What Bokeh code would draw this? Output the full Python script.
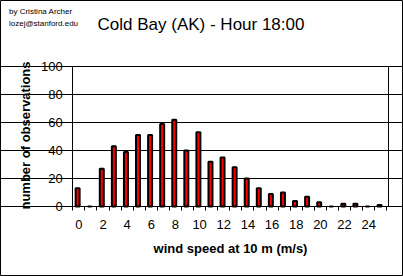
from bokeh.plotting import figure
from bokeh.models import Range1d, FixedTicker, Label, LinearAxis, Grid
from bokeh.transform import dodge
from bokeh.embed import file_html
from bokeh.resources import INLINE
from math import pi

# ---- data ----
speeds = list(range(26))
counts = [13, 0, 27, 43, 39, 51, 51, 59, 62, 40, 53, 32, 35, 28, 20, 13, 9, 10, 4, 7, 3, 0, 2, 2, 0, 1]
x_tick_values = list(range(0, 26, 2))
y_tick_values = [0, 20, 40, 60, 80, 100]

title_text = "Cold Bay (AK) - Hour 18:00"
credit_1 = "by Cristina Archer"
credit_2 = "lozej@stanford.edu"
x_title = "wind speed at 10 m (m/s)"
y_title = "number of observations"

FONT = "Liberation Sans"

# ---- layout (pixels of the 403x276 canvas) ----
W, H = 403, 276
PL, PR, PT, PB = 72.3, 388.0, 66.0, 206.0      # plot area
XA, XB = -0.5, 25.5                             # first / last category edges
XPX = (386.3 - PL) / (XB - XA)                  # pixels per category
YPX = (PB - PT) / 100.0                         # pixels per observation

x_start = XA - PL / XPX
x_end = XA + (W - PL) / XPX
x_right = XA + (PR - PL) / XPX
y_start = -(H - PB) / YPX
y_end = PB / YPX

p = figure(width=W, height=H, x_range=Range1d(x_start, x_end), y_range=Range1d(y_start, y_end),
           output_backend="svg", toolbar_location=None, x_axis_type=None, y_axis_type=None,
           min_border=0, min_border_left=0, min_border_right=0, min_border_top=0, min_border_bottom=0)
p.title.visible = False
p.background_fill_color = "white"
p.border_fill_color = "white"
p.outline_line_color = "black"
p.outline_line_width = 1

# horizontal grid
p.add_layout(Grid(dimension=1, ticker=FixedTicker(ticks=y_tick_values), bounds=(XA, x_right),
                  grid_line_color="black", grid_line_width=1))

p.vbar(x=dodge("x", -0.1, range=p.x_range), top="top", width=0.33, bottom=0,
       source=dict(x=speeds, top=counts),
       fill_color="#ff0000", line_color="black", line_width=2)

# y axis
yaxis = LinearAxis(fixed_location=XA, bounds=(0, 100), ticker=FixedTicker(ticks=y_tick_values),
                   major_tick_in=0, major_tick_out=4, minor_tick_line_color=None,
                   major_label_standoff=6, axis_line_color="black", major_tick_line_color="black",
                   major_label_text_font=FONT, major_label_text_font_size="13px",
                   major_label_text_color="black")
p.add_layout(yaxis, "left")

# x axis
xaxis = LinearAxis(fixed_location=0, bounds=(XA, x_right),
                   ticker=FixedTicker(ticks=x_tick_values, minor_ticks=[s - 0.5 for s in speeds + [26]]),
                   major_tick_line_color=None, minor_tick_in=0, minor_tick_out=4,
                   minor_tick_line_color="black", major_label_standoff=7, axis_line_color="black",
                   major_label_text_font=FONT, major_label_text_font_size="13px",
                   major_label_text_color="black")
p.add_layout(xaxis, "below")

# right border of the plot area
p.add_layout(LinearAxis(fixed_location=x_right, bounds=(0, 100), ticker=FixedTicker(ticks=[]),
                        major_tick_line_color=None, minor_tick_line_color=None,
                        major_label_text_alpha=0, axis_line_color="black"), "right")


def lab(px, py, text, size, bold=False, align="left", angle=0.0):
    p.add_layout(Label(x=px, y=py, x_units="canvas", y_units="canvas", text=text,
                       text_align=align, angle=angle, text_baseline="alphabetic",
                       text_font=FONT, text_font_size=size,
                       text_font_style="bold" if bold else "normal", text_color="black"))


lab(200.5, 23.5, title_text, "17px", align="center")
lab(8.5, 11, credit_1, "8px")
lab(8.5, 23, credit_2, "8px")
lab(230, 247.5, x_title, "13px", bold=True, align="center")
lab(25.3, 135, y_title, "13px", bold=True, align="center", angle=pi / 2)

open("out.html", "w").write(file_html(p, INLINE))
